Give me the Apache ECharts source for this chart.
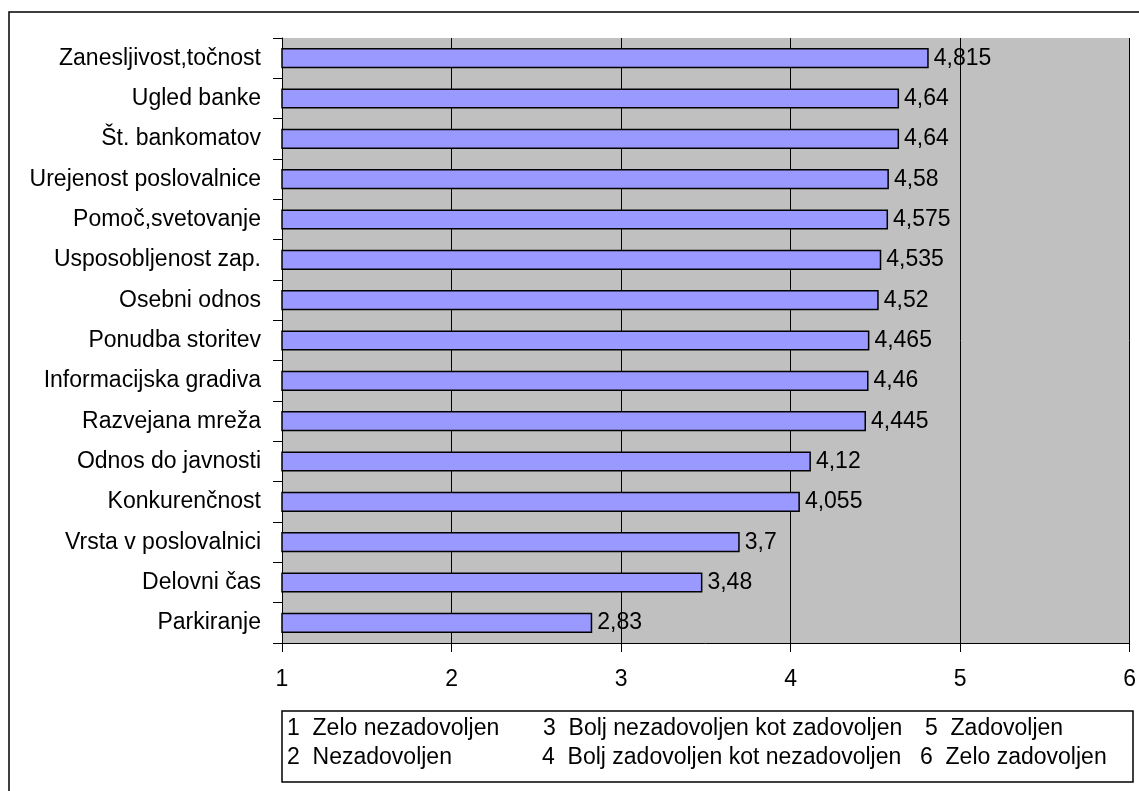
<!DOCTYPE html>
<html><head><meta charset="utf-8">
<script src="https://cdn.jsdelivr.net/npm/echarts@6/dist/echarts.min.js"></script>
<style>html,body{margin:0;padding:0;background:#fff}#c{width:1139px;height:791px}</style>
</head><body><div id="c"></div>
<script>
var categories = ["Zanesljivost,točnost","Ugled banke","Št. bankomatov","Urejenost poslovalnice","Pomoč,svetovanje","Usposobljenost zap.","Osebni odnos","Ponudba storitev","Informacijska gradiva","Razvejana mreža","Odnos do javnosti","Konkurenčnost","Vrsta v poslovalnici","Delovni čas","Parkiranje"];
var values = [4.815,4.64,4.64,4.58,4.575,4.535,4.52,4.465,4.46,4.445,4.12,4.055,3.7,3.48,2.83];
var xTicks = [1,2,3,4,5,6];
var legendCol1 = ["1  Zelo nezadovoljen","2  Nezadovoljen"];
var legendCol2 = ["3  Bolj nezadovoljen kot zadovoljen","4  Bolj zadovoljen kot nezadovoljen"];
var legendCol3 = ["5  Zadovoljen","6  Zelo zadovoljen"];

var font = 'Liberation Sans, Arial, sans-serif';
var fs = 23;
var chart = echarts.init(document.getElementById('c'), null, {renderer:'canvas'});
function txt(x,y,s){return {type:'text',x:x,y:y,style:{text:s,font:fs+'px '+font,fill:'#000',textVerticalAlign:'middle'},z:10};}
chart.setOption({
  animation:false,
  grid:{left:282,right:9,top:38,bottom:148,show:true,backgroundColor:'#c0c0c0',borderWidth:0},
  xAxis:{type:'value',min:1,max:6,interval:1,
    axisLine:{show:true,lineStyle:{color:'#000',width:1}},
    axisTick:{show:true,length:9,lineStyle:{color:'#000'}},
    splitLine:{show:true,lineStyle:{color:'#000',width:1}},
    axisLabel:{fontFamily:font,fontSize:fs,color:'#000',margin:25,
      formatter:function(v){return xTicks.indexOf(v)>=0?String(v):'';}}},
  yAxis:{type:'category',data:categories,inverse:true,
    axisLine:{show:true,lineStyle:{color:'#000',width:1}},
    axisTick:{show:true,length:9,lineStyle:{color:'#000'}},
    axisLabel:{fontFamily:font,fontSize:fs,color:'#000',margin:21}},
  series:[{type:'bar',data:values,barWidth:'50%',
    itemStyle:{color:'#9999ff',borderColor:'#000',borderWidth:1.5},
    label:{show:true,position:'right',distance:5,fontFamily:font,fontSize:fs,color:'#000',
      formatter:function(p){return String(p.value).replace('.',',');}}}],
  graphic:[
    {type:'rect',shape:{x:9,y:12,width:1200,height:900},style:{fill:'none',stroke:'#000',lineWidth:1.5},z:0,silent:true},
    {type:'rect',shape:{x:282,y:711,width:851,height:71},style:{fill:'#fff',stroke:'#000',lineWidth:1.5},z:5},
    txt(287,729,legendCol1[0]),txt(287,758,legendCol1[1]),
    txt(543,729,legendCol2[0]),txt(542,758,legendCol2[1]),
    txt(925,729,legendCol3[0]),txt(920,758,legendCol3[1])
  ]
});
</script></body></html>
